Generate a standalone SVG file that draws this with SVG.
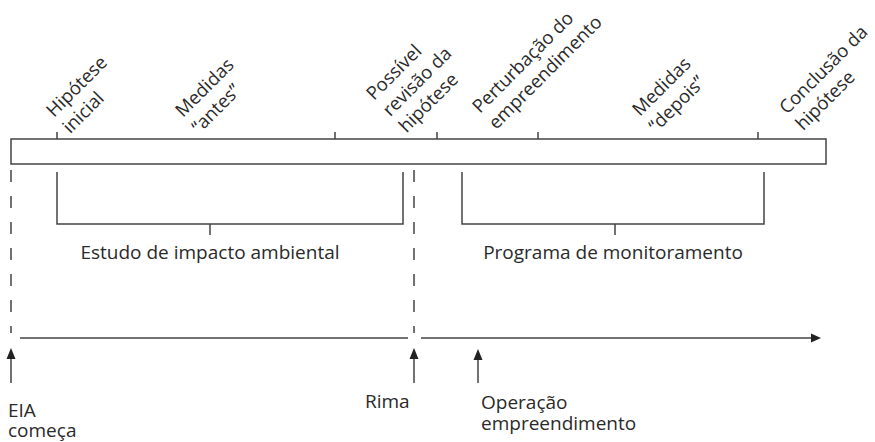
<svg xmlns="http://www.w3.org/2000/svg" width="875" height="442" viewBox="0 0 875 442">
<defs>
<style>
.ln{fill:none;stroke:#444;stroke-width:1.5}
.dash{fill:none;stroke:#444;stroke-width:1.5;stroke-dasharray:12 14;stroke-dashoffset:20}
.ah{fill:#222}
text{font-family:"Open Sans","Noto Sans",sans-serif;font-size:19px;fill:#2a2a2a}
.rot{font-size:18.5px}
</style>
</defs>
<rect width="875" height="442" fill="#fff"/>
<g id="timeline-bar">
<rect class="ln" x="11" y="139" width="815" height="25"/>
<path class="ln" d="M57,132V139M335,132V139M437,132V139M538,132V139M758,132V139"/>
</g>
<g id="label-hipotese-inicial" transform="translate(54,118) rotate(-45)">
<text class="rot"><tspan x="0" y="0">Hipótese</tspan><tspan x="0" y="23">inicial</tspan></text>
</g>
<g id="label-medidas-antes" transform="translate(183,118) rotate(-45)">
<text class="rot"><tspan x="0" y="0">Medidas</tspan><tspan x="0" y="23">“antes”</tspan></text>
</g>
<g id="label-possivel-revisao" transform="translate(374,101) rotate(-45)">
<text class="rot"><tspan x="0" y="0">Possível</tspan><tspan x="0" y="23">revisão da</tspan><tspan x="0" y="46">hipótese</tspan></text>
</g>
<g id="label-perturbacao" transform="translate(480,114) rotate(-45)">
<text class="rot"><tspan x="0" y="0">Perturbação do</tspan><tspan x="0" y="23">empreendimento</tspan></text>
</g>
<g id="label-medidas-depois" transform="translate(640,117) rotate(-45)">
<text class="rot"><tspan x="0" y="0">Medidas</tspan><tspan x="0" y="23">“depois”</tspan></text>
</g>
<g id="label-conclusao" transform="translate(787,115) rotate(-45)">
<text class="rot"><tspan x="0" y="0">Conclusão da</tspan><tspan x="0" y="23">hipótese</tspan></text>
</g>
<g id="bracket-eia">
<path class="ln" d="M57,172V224H403V172M210,224V235"/>
<text x="210" y="259" text-anchor="middle">Estudo de impacto ambiental</text>
</g>
<g id="bracket-monitoramento">
<path class="ln" d="M462,172V224H764V172M615,224V235"/>
<text x="613" y="259" text-anchor="middle">Programa de monitoramento</text>
</g>
<g id="connectors">
<path class="dash" d="M11,164V333"/>
<path class="dash" d="M414,164V333"/>
<path class="ln" d="M20,338H408M421,338H812"/>
<polygon class="ah" points="821,338 811,333.5 811,342.5"/>
<path class="ln" d="M11,383V357M414,383V357M478,383V357"/>
<polygon class="ah" points="11,348 6.5,359 15.5,359"/>
<polygon class="ah" points="414,348 409.5,359 418.5,359"/>
<polygon class="ah" points="478,349 473.5,360 482.5,360"/>
</g>
<g id="label-eia-comeca">
<text><tspan x="8" y="417">EIA</tspan><tspan x="8" y="437">começa</tspan></text>
</g>
<g id="label-rima">
<text x="365" y="408">Rima</text>
</g>
<g id="label-operacao">
<text><tspan x="481" y="409">Operação</tspan><tspan x="481" y="430">empreendimento</tspan></text>
</g>
</svg>
